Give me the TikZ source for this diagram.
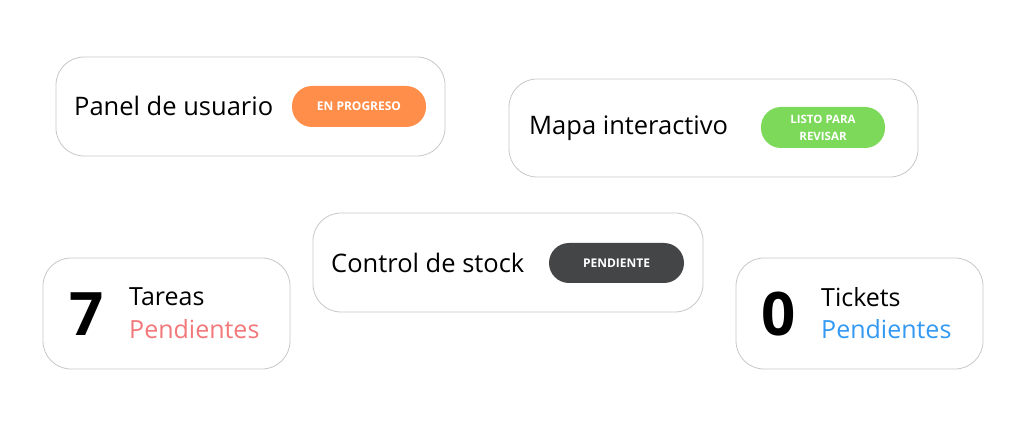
\documentclass[tikz,border=0pt]{standalone}
\usepackage{fontspec}
\setmainfont{Open Sans}
\definecolor{bd}{HTML}{C8C8C8}
\definecolor{orng}{HTML}{FF8E4A}
\definecolor{grn}{HTML}{7DD95A}
\definecolor{drk}{HTML}{444547}
\definecolor{salm}{HTML}{F2787A}
\definecolor{blu}{HTML}{3399F3}
\tikzset{card/.style={draw=bd,line width=0.8pt,rounded corners=28pt,fill=white},
pill/.style={rounded corners=20pt,text=white,font=\fontsize{12}{12}\selectfont\bfseries,align=center},
lbl/.style={anchor=west,font=\fontsize{25.5}{26}\selectfont,inner sep=0},
big/.style={font=\fontsize{60}{60}\selectfont\bfseries,inner sep=0},
small/.style={anchor=west,font=\fontsize{25}{25}\selectfont,inner sep=0}}
\begin{document}
\begin{tikzpicture}[x=1pt,y=-1pt]
\useasboundingbox (0,0) rectangle (1024,427);
% card 1
\draw[card] (56,57) rectangle (445,156);
\fill[orng,rounded corners=20pt] (292,86) rectangle (426,127);
\node[lbl] (t1) at (74,106) {Panel de usuario};
\node[pill] (p1) at (359,106.5) {EN PROGRESO};
% card 2
\draw[card] (509,79) rectangle (918,177);
\fill[grn,rounded corners=20pt] (761,107) rectangle (885,148);
\node[lbl] (t2) at (529,128) {Mapa interactivo};
\node[pill,font=\fontsize{11.5}{17}\selectfont\bfseries] (p2) at (823,127.5) {LISTO PARA\\REVISAR};
% card 3
\draw[card] (313,213) rectangle (703,312);
\fill[drk,rounded corners=20pt] (549,243) rectangle (684,283);
\node[lbl] (t3) at (331,263) {Control de stock};
\node[pill] (p3) at (616.5,263) {PENDIENTE};
% card 4
\draw[card] (43,258) rectangle (290,369);
\node[big] (n4) at (87,314) {7};
\node[small] (a4) at (129,297) {Tareas};
\node[small,text=salm] (b4) at (129,329) {Pendientes};
% card 5
\draw[card] (736,258) rectangle (983,369);
\node[big] (n5) at (779,314) {0};
\node[small] (a5) at (821,297) {Tickets};
\node[small,text=blu] (b5) at (821,329) {Pendientes};
\end{tikzpicture}
\end{document}
